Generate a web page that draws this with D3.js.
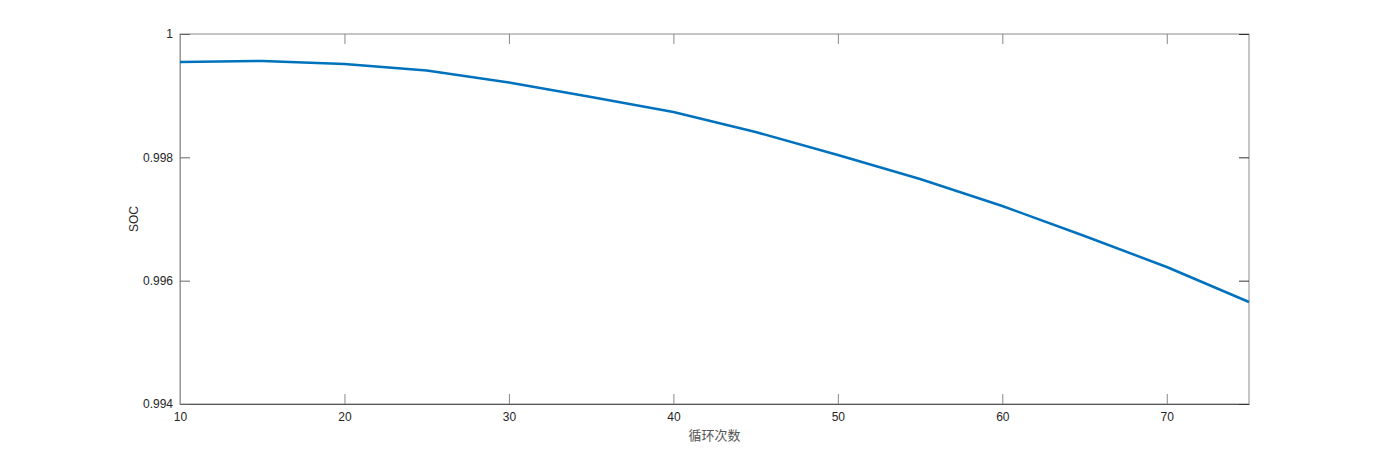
<!DOCTYPE html>
<html>
<head>
<meta charset="utf-8">
<style>
  body { margin: 0; background: #fff; }
  svg { display: block; }
  .tick text { font-family: "Liberation Sans", Arial, sans-serif; font-size: 12px; fill: #262626; }
</style>
<script src="https://d3js.org/d3.v7.min.js"></script>
</head>
<body>
<svg id="chart" width="1380" height="454"></svg>
<script>
// cycle count and SOC
var cycles = [10, 15, 20, 25, 30, 35, 40, 45, 50, 55, 60, 65, 70, 75];
var soc = [0.999546, 0.999562, 0.999514, 0.999408, 0.999214, 0.998978, 0.998735,
           0.998411, 0.998038, 0.997649, 0.997211, 0.996724, 0.996222, 0.995654];
var xTicks = [10, 20, 30, 40, 50, 60, 70];
var yTicks = [0.994, 0.996, 0.998, 1];

// plot box (note: "top" is a window global, so use other names)
var plotL = 180, plotT = 34, plotR = 1249, plotB = 404;
const svg = d3.select("#chart");

var x = d3.scaleLinear().domain([10, 75]).range([plotL, plotR]);
var y = d3.scaleLinear().domain([0.994, 1]).range([plotB, plotT]);

// box
svg.append("rect")
  .attr("x", plotL).attr("y", plotT)
  .attr("width", plotR - plotL).attr("height", plotB - plotT)
  .attr("fill", "none").attr("stroke", "#8c8c8c").attr("stroke-width", 1);

// bottom axis, ticks pointing in
var xAxis = svg.append("g")
  .attr("transform", "translate(0," + plotB + ")")
  .call(d3.axisBottom(x).tickValues(xTicks).tickSizeInner(-10).tickSizeOuter(0).tickPadding(8));
xAxis.select(".domain").attr("stroke", "#555");
xAxis.selectAll(".tick line").attr("stroke", "#888");

// top ticks
svg.append("g")
  .attr("transform", "translate(0," + plotT + ")")
  .call(d3.axisTop(x).tickValues(xTicks).tickSizeInner(-10).tickSizeOuter(0).tickFormat(""))
  .call(g => g.select(".domain").remove())
  .selectAll(".tick line").attr("stroke", "#888");

// left axis
var yAxis = svg.append("g")
  .attr("transform", "translate(" + plotL + ",0)")
  .call(d3.axisLeft(y).tickValues(yTicks).tickSizeInner(-10).tickSizeOuter(0).tickPadding(7)
    .tickFormat(d => d === 1 ? "1" : d3.format(".3f")(d)));
yAxis.select(".domain").attr("stroke", "#999");
yAxis.selectAll(".tick line").attr("stroke", "#666");

// right ticks
svg.append("g")
  .attr("transform", "translate(" + plotR + ",0)")
  .call(d3.axisRight(y).tickValues(yTicks).tickSizeInner(-10).tickSizeOuter(0).tickFormat(""))
  .call(g => g.select(".domain").remove())
  .selectAll(".tick line").attr("stroke", "#333");

// curve
var line = d3.line()
  .x((d, i) => x(cycles[i]))
  .y(d => y(d));

svg.append("path")
  .datum(soc)
  .attr("d", line)
  .attr("fill", "none")
  .attr("stroke", "#0072BD")
  .attr("stroke-width", 2.5)
  .attr("stroke-linejoin", "round");

// labels
svg.append("text")
  .text("循环次数")
  .attr("x", (plotL + plotR) / 2)
  .attr("y", 440)
  .attr("text-anchor", "middle")
  .attr("font-family", "'Noto Sans CJK SC', sans-serif")
  .attr("font-size", 13)
  .attr("fill", "#555");

svg.append("text")
  .text("SOC")
  .attr("transform", "translate(138," + ((plotT + plotB) / 2) + ") rotate(-90)")
  .attr("text-anchor", "middle")
  .attr("font-family", "'Liberation Sans', Arial, sans-serif")
  .attr("font-size", 12)
  .attr("fill", "#262626");
</script>
</body>
</html>
